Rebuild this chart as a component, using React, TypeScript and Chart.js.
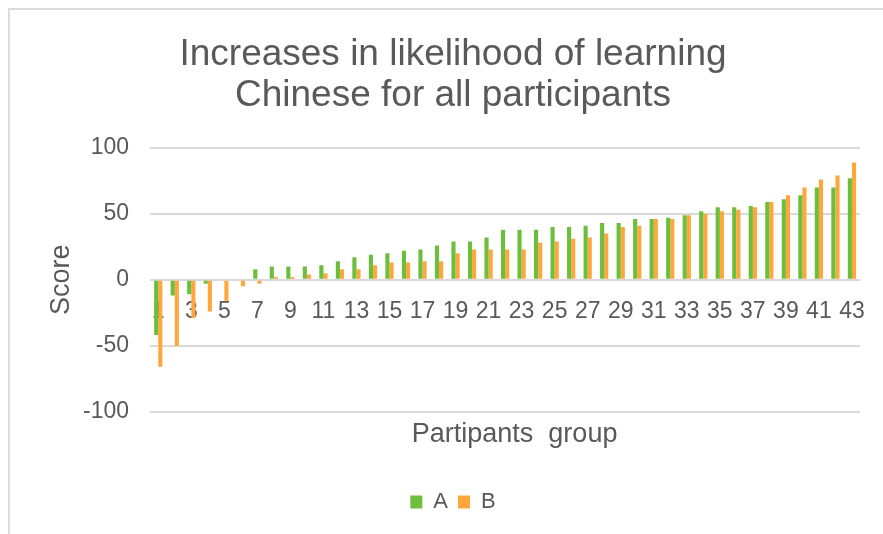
import React, { useEffect, useRef } from "react";
import { Chart, registerables } from "chart.js";

Chart.register(...registerables);

const categories = [
  "1", "2", "3", "4", "5", "6", "7", "8", "9", "10",
  "11", "12", "13", "14", "15", "16", "17", "18", "19", "20",
  "21", "22", "23", "24", "25", "26", "27", "28", "29", "30",
  "31", "32", "33", "34", "35", "36", "37", "38", "39", "40",
  "41", "42", "43",
];

const seriesA = [
  -42, -12, -11, -3, 0, 0, 8, 10, 10, 10,
  11, 14, 17, 19, 20, 22, 23, 26, 29, 29,
  32, 38, 38, 38, 40, 40, 41, 43, 43, 46,
  46, 47, 49, 52, 55, 55, 56, 59, 61, 64,
  70, 70, 77,
];

const seriesB = [
  -66, -50, -29, -24, -16, -5, -3, 2, 2, 4,
  5, 8, 8, 11, 13, 13, 14, 14, 20, 23,
  23, 23, 23, 28, 29, 31, 32, 35, 40, 41,
  46, 46, 49, 50, 52, 53, 55, 59, 64, 70,
  76, 79, 89,
];

const tickLabels = [
  "1", "3", "5", "7", "9", "11", "13", "15", "17", "19", "21",
  "23", "25", "27", "29", "31", "33", "35", "37", "39", "41", "43",
];

const titleLines = ["Increases in likelihood of learning", "Chinese for all participants"];
const xTitle = "Partipants  group";
const yTitle = "Score";
const seriesNames = ["A", "B"];

const TEXT = "#595959";
const GRID = "#d9d9d9";
const GREEN = "#6dbe3c";
const ORANGE = "#ffa73c";

const shiftXTitle = {
  id: "shiftXTitle",
  afterLayout(chart: any) {
    const s = chart.scales.x2;
    if (s) {
      s.left += 9.5;
      s.right += 9.5;
    }
  },
};

export default function App() {
  const ref = useRef<HTMLCanvasElement | null>(null);

  useEffect(() => {
    if (!ref.current) return;
    Chart.defaults.font.family = "'Liberation Sans', Arial, sans-serif";
    const chart = new Chart(ref.current, {
      type: "bar",
      data: {
        labels: categories,
        datasets: [
          {
            label: seriesNames[0],
            data: seriesA,
            backgroundColor: GREEN,
            borderWidth: 0,
            categoryPercentage: 0.5,
            barPercentage: 1,
          },
          {
            label: seriesNames[1],
            data: seriesB,
            backgroundColor: ORANGE,
            borderWidth: 0,
            categoryPercentage: 0.5,
            barPercentage: 1,
          },
        ],
      },
      options: {
        responsive: false,
        animation: false,
        devicePixelRatio: 1,
        layout: { padding: { top: 34, left: 45, right: 22, bottom: 11 } },
        plugins: {
          title: {
            display: true,
            text: titleLines,
            color: TEXT,
            font: { size: 37, weight: "normal", lineHeight: 1.12 },
            padding: { top: 0, bottom: 31 },
          },
          legend: {
            position: "bottom",
            labels: {
              boxWidth: 12,
              boxHeight: 13,
              color: TEXT,
              font: { size: 22 },
              padding: 10,
            },
          },
          tooltip: { enabled: false },
        },
        scales: {
          x: {
            type: "category",
            position: { y: 0 } as any,
            z: 1,
            grid: { display: false, drawTicks: false },
            border: { display: false },
            ticks: {
              autoSkip: false,
              maxRotation: 0,
              minRotation: 0,
              color: TEXT,
              font: { size: 23 },
              padding: 18,
              callback: (_v: any, i: number) =>
                tickLabels.includes(categories[i]) ? categories[i] : "",
            },
          },
          x2: {
            type: "category",
            position: "bottom",
            grid: { display: false, drawTicks: false },
            border: { display: false },
            ticks: { display: false },
            title: {
              display: true,
              text: xTitle,
              color: TEXT,
              font: { size: 27 },
              padding: { top: 7, bottom: 30 },
            },
          },
          y: {
            min: -100,
            max: 100,
            afterFit: (s: any) => {
              s.width = 105;
            },
            grid: { color: GRID, lineWidth: 2, drawTicks: false },
            border: { display: false },
            ticks: {
              stepSize: 50,
              color: TEXT,
              font: { size: 23 },
              padding: 21,
            },
            title: {
              display: true,
              text: yTitle,
              color: TEXT,
              font: { size: 27 },
              padding: { top: 0, bottom: 6 },
            },
          },
        },
      } as any,
      plugins: [shiftXTitle],
    });
    return () => chart.destroy();
  }, []);

  return (
    <div
      style={{
        position: "absolute",
        left: 0,
        top: 0,
        width: 883,
        height: 534,
        overflow: "hidden",
        background: "#fff",
      }}
    >
      <div
        style={{
          position: "absolute",
          left: 8,
          top: 8,
          width: 2000,
          height: 2000,
          border: "2px solid #dcdcdc",
          boxSizing: "border-box",
        }}
      />
      <canvas
        ref={ref}
        width={883}
        height={534}
        style={{ position: "absolute", left: 0, top: 0, width: 883, height: 534 }}
      />
    </div>
  );
}
